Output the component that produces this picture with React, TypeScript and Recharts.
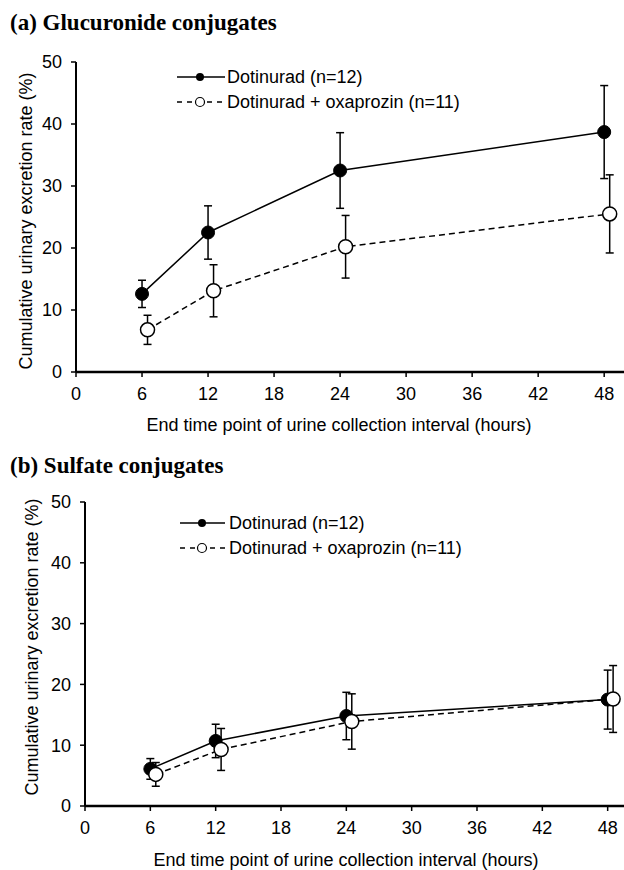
// Two-panel cumulative urinary excretion chart (glucuronide / sulfate conjugates).
// Mean ± SD, combination arm drawn half an hour to the right so the bars don't collide.

import { ErrorBar, Line, LineChart, XAxis, YAxis } from 'recharts';

const HOURS = [6, 12, 24, 48];
const HOURS_SHIFTED = [6.5, 12.5, 24.5, 48.5];
const X_TICKS = [0, 6, 12, 18, 24, 30, 36, 42, 48];
const Y_TICKS = [0, 10, 20, 30, 40, 50];

const GLUC_DOTI = [12.6, 22.5, 32.5, 38.7];
const GLUC_DOTI_SD = [2.2, 4.3, 6.1, 7.5];
const GLUC_COMBO = [6.8, 13.1, 20.2, 25.5];
const GLUC_COMBO_SD = [2.35, 4.2, 5.05, 6.3];

const SULF_DOTI = [6.1, 10.7, 14.8, 17.5];
const SULF_DOTI_SD = [1.7, 2.75, 3.9, 4.85];
const SULF_COMBO = [5.2, 9.3, 13.9, 17.6];
const SULF_COMBO_SD = [1.95, 3.45, 4.55, 5.5];

const LEGEND_SOLO = 'Dotinurad (n=12)';
const LEGEND_COMBO = 'Dotinurad + oxaprozin (n=11)';
const Y_LABEL = 'Cumulative urinary excretion rate (%)';
const X_LABEL = 'End time point of urine collection interval (hours)';

const SANS = '"Liberation Sans", Arial, sans-serif';
const SERIF = '"Liberation Serif", "Times New Roman", serif';

const toRows = (xs: number[], ys: number[], sds: number[]) =>
  xs.map((x, i) => ({ x, y: ys[i], sd: sds[i] }));

interface PanelProps {
  top: number;
  height: number;
  axisWidth: number;
  xMax: number;
  solo: { x: number; y: number; sd: number }[];
  combo: { x: number; y: number; sd: number }[];
}

function Panel({ top, height, axisWidth, xMax, solo, combo }: PanelProps) {
  const tick = { fill: '#000', fontSize: 18, fontFamily: SANS };
  return (
    <div style={{ position: 'absolute', left: 0, top, width: 624, height }}>
      <LineChart width={624} height={height} margin={{ top: 62, right: 0, bottom: 0, left: 0 }}>
        <XAxis
          dataKey="x"
          type="number"
          domain={[0, xMax]}
          ticks={X_TICKS}
          allowDataOverflow
          height={height - 62 - (height === 440 ? 310 : 304)}
          tick={tick}
          tickSize={5}
          tickMargin={10}
          axisLine={{ stroke: '#000', strokeWidth: 2.5 }}
          tickLine={{ stroke: '#000', strokeWidth: 1.5 }}
        />
        <YAxis
          dataKey="y"
          type="number"
          domain={[0, 50]}
          ticks={Y_TICKS}
          width={axisWidth}
          tick={tick}
          tickSize={5}
          tickMargin={9}
          axisLine={{ stroke: '#000', strokeWidth: 2 }}
          tickLine={{ stroke: '#000', strokeWidth: 1.5 }}
        />
        <Line
          data={solo}
          dataKey="y"
          stroke="#000"
          strokeWidth={1.5}
          dot={{ r: 6.5, fill: '#000', stroke: '#000', strokeWidth: 1 }}
          isAnimationActive={false}
        >
          <ErrorBar dataKey="sd" direction="y" width={4} stroke="#000" strokeWidth={1.5} />
        </Line>
        <Line
          data={combo}
          dataKey="y"
          stroke="#000"
          strokeWidth={1.5}
          strokeDasharray="6 4"
          dot={{ r: 7, fill: '#fff', stroke: '#000', strokeWidth: 1.5, strokeDasharray: '' }}
          isAnimationActive={false}
        >
          <ErrorBar dataKey="sd" direction="y" width={4} stroke="#000" strokeWidth={1.5} />
        </Line>
      </LineChart>
    </div>
  );
}

function LegendKey({ x1, x2, cx, y, textX }: { x1: number; x2: number; cx: number; y: number; textX: number }) {
  return (
    <g fontFamily={SANS} fontSize={18} fill="#000">
      <line x1={x1} x2={x2} y1={y} y2={y} stroke="#000" strokeWidth={1.5} />
      <circle cx={cx} cy={y} r={4} fill="#000" />
      <text x={textX} y={y + 6.4}>{LEGEND_SOLO}</text>
      <line x1={x1} x2={x2} y1={y + 25} y2={y + 25} stroke="#000" strokeWidth={1.5} strokeDasharray="5 5" />
      <circle cx={cx} cy={y + 25} r={4.5} fill="#fff" stroke="#000" strokeWidth={1.2} />
      <text x={textX} y={y + 31.4}>{LEGEND_COMBO}</text>
    </g>
  );
}

export default function App() {
  return (
    <div style={{ position: 'absolute', left: 0, top: 0, width: 624, height: 870, background: '#fff' }}>
      <Panel
        top={0}
        height={440}
        axisWidth={76}
        xMax={49.8}
        solo={toRows(HOURS, GLUC_DOTI, GLUC_DOTI_SD)}
        combo={toRows(HOURS_SHIFTED, GLUC_COMBO, GLUC_COMBO_SD)}
      />
      <Panel
        top={440}
        height={430}
        axisWidth={85}
        xMax={49.5}
        solo={toRows(HOURS, SULF_DOTI, SULF_DOTI_SD)}
        combo={toRows(HOURS_SHIFTED, SULF_COMBO, SULF_COMBO_SD)}
      />
      <svg
        width={624}
        height={870}
        style={{ position: 'absolute', left: 0, top: 0, pointerEvents: 'none' }}
      >
        <text x={10} y={30} fontFamily={SERIF} fontWeight="bold" fontSize={23}>
          (a) Glucuronide conjugates
        </text>
        <text x={10} y={473} fontFamily={SERIF} fontWeight="bold" fontSize={23}>
          (b) Sulfate conjugates
        </text>
        <g fontFamily={SANS} fontSize={18} fill="#000" textAnchor="middle">
          <text transform="translate(32,221) rotate(-90)">{Y_LABEL}</text>
          <text transform="translate(38,647) rotate(-90)">{Y_LABEL}</text>
          <text x={339} y={431}>{X_LABEL}</text>
          <text x={346} y={866}>{X_LABEL}</text>
        </g>
        <LegendKey x1={177} x2={225} cx={200} y={77} textX={227} />
        <LegendKey x1={180} x2={225} cx={202} y={523} textX={229} />
      </svg>
    </div>
  );
}
